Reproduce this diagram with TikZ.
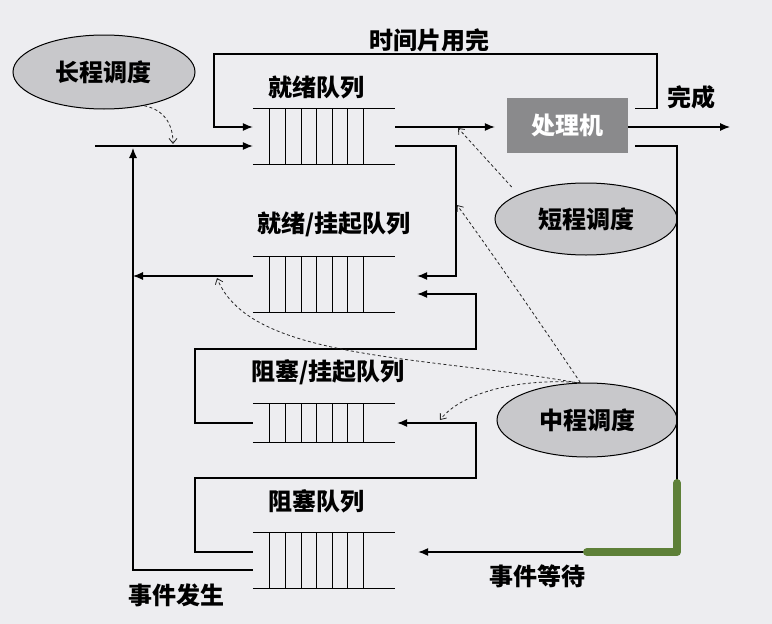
\documentclass[tikz,border=0pt]{standalone}
\usepackage{fontspec}
\setmainfont{Noto Sans CJK SC}
\usetikzlibrary{arrows.meta,shapes.geometric,calc}
\definecolor{bg}{RGB}{237,237,240}
\definecolor{ellfill}{RGB}{200,200,203}
\definecolor{cpufill}{RGB}{138,138,140}
\definecolor{hl}{RGB}{94,128,56}
\begin{document}
\begin{tikzpicture}[x=1pt,y=-1pt,
  line/.style={line width=1.1pt, black},
  arr/.style={line, -{Latex[length=10pt,width=8pt]}},
  dasharr/.style={line width=0.8pt, black!85, dash pattern=on 3pt off 2.5pt, -{Straight Barb[length=5pt,width=8pt]}},
  txt/.style={font=\fontsize{24}{26}\selectfont\bfseries},
  sched/.style={ellipse, draw, line width=1pt, fill=ellfill, minimum width=182pt, minimum height=74pt, inner sep=0pt, txt},
  cpubox/.style={rectangle, fill=cpufill, minimum width=121pt, minimum height=55pt, inner sep=0pt, txt, text=white},
  qbox/.style={rectangle, minimum width=142pt, minimum height=55pt, inner sep=0pt},
  lbl/.style={txt, inner sep=0pt},
  hlstyle/.style={line width=8pt, hl, line cap=round, line join=round}]
\fill[bg] (0,0) rectangle (772,624);
\useasboundingbox (0,0) rectangle (772,624);

% scheduler ellipses and processor
\node[sched] (lts) at (104,72) {长程调度};
\node[sched, minimum height=72pt] (sts) at (586,219) {短程调度};
\node[sched, minimum width=180pt] (mts) at (587,420) {中程调度};
\node[cpubox] (cpu) at (567.5,125.5) {处理机};

% queues
\node[qbox] (q1) at (324,136.5) {};
\node[qbox] (q2) at (324,284.5) {};
\node[qbox, minimum height=38pt] (q3) at (324,423) {};
\node[qbox] (q4) at (324,560.5) {};
\foreach \q in {q1,q2,q3,q4} {
  \draw[line] (\q.north west) -- (\q.north east);
  \draw[line] (\q.south west) -- (\q.south east);
  \foreach \dx in {17,33,49,64,80,95,111}
    \draw[line] ([xshift=\dx pt]\q.north west) -- ([xshift=\dx pt]\q.south west);
}

% labels
\node[lbl] (l1) at (316,87) {就绪队列};
\node[lbl] (l2) at (334,224) {就绪/挂起队列};
\node[lbl] (l3) at (328,372) {阻塞/挂起队列};
\node[lbl] (l4) at (316,501) {阻塞队列};
\node[lbl] (tl) at (429,40) {时间片用完};
\node[lbl] (dl) at (691,97) {完成};
\node[lbl] (el) at (176,595) {事件发生};
\node[lbl] (wl) at (537,576) {事件等待};

% connectors
\coordinate (entry) at (95,146);
\draw[arr] (entry) -- ([yshift=-9.5pt]q1.west);
\coordinate (tsR) at (657,54);
\coordinate (tsL) at (214,54);
\draw[arr] ([xshift=7pt,yshift=-11pt]cpu.north east) -| (tsR) -- (tsL) |- ([yshift=9.5pt]q1.west);
\draw[arr] ([yshift=9.5pt]q1.east) -- ([xshift=-12pt,yshift=-1.5pt]cpu.west);
\coordinate (done) at (730,127);
\draw[arr] ([yshift=-1.5pt]cpu.east) -- (done);

\coordinate (c1) at (456,276);
\draw[arr] ([yshift=-9.5pt]q1.east) -| (c1) -- ([xshift=22pt,yshift=8.5pt]q2.east);
\coordinate (up) at (133,148);
\coordinate (j2) at (133,276);
\draw[arr] ([yshift=8.5pt]q2.west) -- (j2);
\draw[arr] ([yshift=-9.5pt]q4.west) -| (up);

\coordinate (a1) at (195,349);
\coordinate (a2) at (476,294);
\draw[arr] (q3.west) -| (a1) -| (a2) -- ([xshift=22pt,yshift=-9.5pt]q2.east);
\coordinate (b1) at (195,478);
\coordinate (b2) at (476,423);
\draw[arr] ([yshift=8.5pt]q4.west) -| (b1) -| (b2) -- ([xshift=2pt]q3.east);

\coordinate (w1) at (677,552);
\draw[arr] ([xshift=7pt,yshift=-20.5pt]cpu.east) -| (w1) -- ([xshift=23pt,yshift=8.5pt]q4.east);
\coordinate (g1) at (677,483);
\coordinate (g2) at (587,552);
\draw[hlstyle] (g1) -- (w1) -- (g2);

% dashed scheduler arrows
\coordinate (d1) at (173,144);
\draw[dasharr] (lts.-40) .. controls (165,110) and (173,125) .. (d1);
\coordinate (d2) at (458,128);
\draw[dasharr, shorten <=10pt] (sts.160) -- (d2);
\coordinate (d3) at (457,205);
\draw[dasharr] (mts.100) .. controls (545,330) and (490,250) .. (d3);
\coordinate (d4) at (217,278);
\draw[dasharr] (mts.105) .. controls (420,355) and (250,360) .. (d4);
\coordinate (d5) at (440,420);
\draw[dasharr] (mts.100) .. controls (520,378) and (462,392) .. (d5);
\end{tikzpicture}
\end{document}
